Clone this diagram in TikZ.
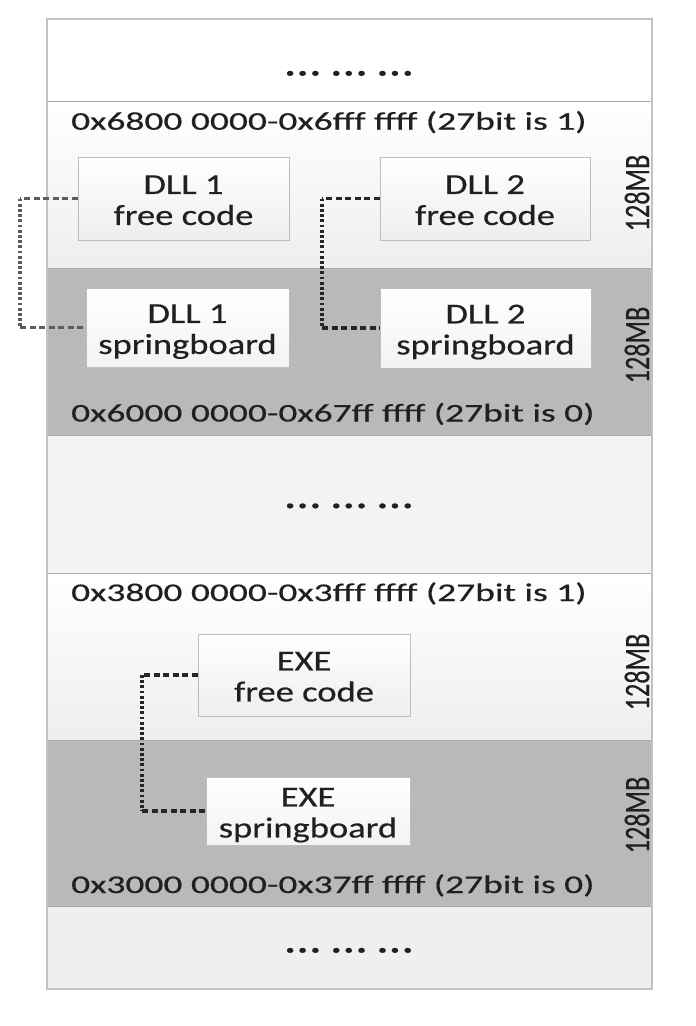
\documentclass[tikz,border=0pt]{standalone}
\usepackage{fontspec}
\setmainfont{Carlito}[FakeBold=0.4]
\usepackage{graphicx}
\definecolor{lightbot}{HTML}{EEEEEE}
\definecolor{darksec}{HTML}{B9B9B9}
\definecolor{midsec}{HTML}{F3F3F3}
\definecolor{botsec}{HTML}{EFEFEF}
\definecolor{frameline}{HTML}{C2C2C2}
\definecolor{divline}{HTML}{A9A9A9}
\definecolor{boxline}{HTML}{BDBDBD}
\definecolor{txt}{HTML}{202020}
\definecolor{linkA}{HTML}{5C5C5C}
\definecolor{linkB}{HTML}{262626}
\newcommand{\twoline}[2]{\raisebox{-11pt}[0pt][0pt]{\scalebox{1.26}[1]{\fontsize{29}{31}\selectfont\begin{tabular}{@{}c@{}}#1\\#2\end{tabular}}}}
\newcommand{\addrtext}[1]{\scalebox{1.47}[1]{\fontsize{25.5}{27}\selectfont #1}}
\newcommand{\sizetext}[1]{\scalebox{0.73}[1]{\fontsize{36}{36}\selectfont #1}}
\newcommand{\dotstext}{\scalebox{1.26}[1]{\fontsize{40}{40}\selectfont …\ …\ …}}
\begin{document}
\begin{tikzpicture}[x=1pt,y=-1pt,
  memblock/.style={draw=boxline, line width=0.8pt, inner sep=0pt, text=txt, align=center},
  freebox/.style={memblock, top color=white, bottom color=lightbot},
  springbox/.style={memblock, top color=white, bottom color=midsec},
  addrlbl/.style={inner sep=0pt, anchor=base west, text=txt},
  sizelbl/.style={inner sep=0pt, rotate=90, text=txt},
  dotslbl/.style={inner sep=0pt, anchor=base, text=txt},
  hlink/.style={line width=3.6pt, dash pattern=on 6pt off 3.5pt},
  vlink/.style={line width=4pt, dash pattern=on 2.8pt off 2.4pt},
  sepline/.style={draw=divline, line width=1pt}]
\useasboundingbox (0,0) rectangle (696,1026);
% sections
\fill[white] (47,19) rectangle (652,101);
\shade[top color=white, bottom color=lightbot] (47,101) rectangle (652,268);
\fill[darksec] (47,268) rectangle (652,435);
\fill[midsec] (47,435) rectangle (652,573);
\shade[top color=white, bottom color=lightbot] (47,573) rectangle (652,740);
\fill[darksec] (47,740) rectangle (652,906);
\fill[botsec] (47,906) rectangle (652,989);
\foreach \yy in {101,268,435,573,740,906}{\draw[sepline] (47,\yy) -- (652,\yy);}
\draw[frameline, line width=1.2pt] (47,19) rectangle (652,989);
% dots
\node[dotslbl] (dtop) at (349,75.5) {\dotstext};
\node[dotslbl] (dmid) at (349,508) {\dotstext};
\node[dotslbl] (dbot) at (349,952.5) {\dotstext};
% address labels
\node[addrlbl] (a1) at (71,129.7) {\addrtext{0x6800 0000-0x6fff ffff (27bit is 1)}};
\node[addrlbl] (a2) at (71,421.5) {\addrtext{0x6000 0000-0x67ff ffff (27bit is 0)}};
\node[addrlbl] (a3) at (71,601) {\addrtext{0x3800 0000-0x3fff ffff (27bit is 1)}};
\node[addrlbl] (a4) at (71,893) {\addrtext{0x3000 0000-0x37ff ffff (27bit is 0)}};
% size labels
\node[sizelbl] (m1) at (637,193) {\sizetext{128MB}};
\node[sizelbl] (m2) at (637,345) {\sizetext{128MB}};
\node[sizelbl] (m3) at (637,672) {\sizetext{128MB}};
\node[sizelbl] (m4) at (637,815) {\sizetext{128MB}};
% boxes
\node[freebox, minimum width=211pt, minimum height=83pt] (f1) at (183.5,198.5) {\twoline{DLL 1}{free code}};
\node[freebox, minimum width=210pt, minimum height=83pt] (f2) at (485,198.5) {\twoline{DLL 2}{free code}};
\node[springbox, minimum width=203pt, minimum height=79pt] (s1) at (187.5,327.5) {\twoline{DLL 1}{springboard}};
\node[springbox, minimum width=211pt, minimum height=80pt] (s2) at (485.5,328) {\twoline{DLL 2}{springboard}};
\node[freebox, minimum width=212pt, minimum height=82pt] (f3) at (304,675) {\twoline{EXE}{free code}};
\node[springbox, minimum width=204pt, minimum height=68pt] (s3) at (308,811) {\twoline{EXE}{springboard}};
% connectors
\coordinate (x1) at (20,0);
\coordinate (x2) at (322,0);
\coordinate (x3) at (142,0);
\draw[hlink, linkA] (f1.west) -- (f1.west -| x1);
\draw[vlink, linkA] (f1.west -| x1) -- (s1.west -| x1);
\draw[hlink, linkA] (s1.west -| x1) -- (s1.west);
\draw[hlink, linkB] (f2.west) -- (f2.west -| x2);
\draw[vlink, linkB] (f2.west -| x2) -- (s2.west -| x2);
\draw[hlink, linkB] (s2.west -| x2) -- (s2.west);
\draw[hlink, linkB] (f3.west) -- (f3.west -| x3);
\draw[vlink, linkB] (f3.west -| x3) -- (s3.west -| x3);
\draw[hlink, linkB] (s3.west -| x3) -- (s3.west);
\end{tikzpicture}
\end{document}
